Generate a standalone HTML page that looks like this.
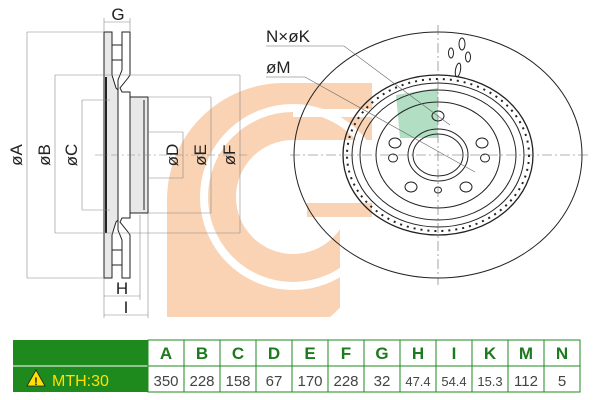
<!DOCTYPE html>
<html><head><meta charset="utf-8"><style>
body{margin:0;background:#fff;width:600px;height:400px;overflow:hidden}
svg{display:block}
text{font-family:"Liberation Sans",sans-serif}
</style></head><body>
<svg width="600" height="400" viewBox="0 0 600 400">
<!-- logo -->
<path d="M167,317 L167,200 A117,117 0 0 1 284,83 L372,83 L372,245 A125,125 0 0 1 330,317 Z" fill="#f9d3b4"/>
<circle cx="293" cy="197" r="89" fill="none" stroke="#fff" stroke-width="8"/>
<rect x="293" y="109" width="85" height="8" fill="#fff"/>
<circle cx="293" cy="197" r="57" fill="#fff"/>
<rect x="293" y="140" width="90" height="63" fill="#fff"/>
<rect x="307" y="203" width="65" height="14" fill="#f9d3b4"/>
<rect x="340" y="217" width="40" height="110" fill="#fff"/>

<!-- left section view -->
<g stroke="#222" fill="none" stroke-width="1">
<path d="M104,32 L112,32 L112,75 L116,88 L124,96 L130,97 L148,97 L148,213 L130,213 L124,214 L116,222 L112,235 L112,278 L104,278 Z" fill="#e8e8e8"/>
<path d="M122,32 L130,32 L130,75 L128,78 L120,88 L122,92 L130,92 L130,218 L122,218 L120,222 L128,232 L130,235 L130,278 L122,278 L122,240 L118,230 L118,80 L122,70 Z" fill="#fff"/>
<line x1="106" y1="77" x2="106" y2="233" stroke-width="2"/>
<line x1="112" y1="45" x2="122" y2="45"/><line x1="112" y1="60" x2="122" y2="60"/>
<line x1="112" y1="250" x2="122" y2="250"/><line x1="112" y1="265" x2="122" y2="265"/>
<line x1="144" y1="100" x2="144" y2="210"/>
</g>
<g stroke="#888" stroke-width="0.6" fill="none">
<line x1="27" y1="32" x2="104" y2="32"/><line x1="27" y1="278" x2="104" y2="278"/>
<line x1="55" y1="75" x2="240" y2="75"/><line x1="55" y1="233" x2="240" y2="233"/>
<line x1="82" y1="100" x2="110" y2="100"/><line x1="82" y1="210" x2="110" y2="210"/>
<line x1="148" y1="97" x2="211" y2="97"/><line x1="148" y1="213" x2="211" y2="213"/>
<line x1="148" y1="132" x2="183" y2="132"/><line x1="148" y1="178" x2="183" y2="178"/>
<line x1="27" y1="32" x2="27" y2="278"/><line x1="55" y1="75" x2="55" y2="233"/>
<line x1="82" y1="100" x2="82" y2="210"/><line x1="183" y1="132" x2="183" y2="178"/>
<line x1="211" y1="97" x2="211" y2="213"/><line x1="240" y1="75" x2="240" y2="233"/>
<line x1="104" y1="18" x2="104" y2="32"/><line x1="130" y1="18" x2="130" y2="32"/>
<line x1="104" y1="22" x2="130" y2="22"/>
<line x1="104" y1="278" x2="104" y2="318"/><line x1="140" y1="215" x2="140" y2="300"/><line x1="148" y1="213" x2="148" y2="318"/>
<line x1="104" y1="296" x2="140" y2="296"/><line x1="104" y1="315" x2="148" y2="315"/>
<line x1="95" y1="155" x2="250" y2="155" stroke-dasharray="8 3 2 3"/>
</g>
<g font-size="17" fill="#222">
<text x="118" y="20" text-anchor="middle">G</text>
<text x="122" y="294" text-anchor="middle">H</text>
<text x="126" y="313" text-anchor="middle">I</text>
<text transform="translate(22,155) rotate(-90)" text-anchor="middle">øA</text>
<text transform="translate(50,155) rotate(-90)" text-anchor="middle">øB</text>
<text transform="translate(77,155) rotate(-90)" text-anchor="middle">øC</text>
<text transform="translate(178,155) rotate(-90)" text-anchor="middle">øD</text>
<text transform="translate(206,155) rotate(-90)" text-anchor="middle">øE</text>
<text transform="translate(235,155) rotate(-90)" text-anchor="middle">øF</text>
<text x="266" y="42">N×øK</text>
<text x="266" y="73">øM</text>
</g>

<!-- right front view -->
<path d="M438,88 L438,138 L400,138 L396,95 Z" fill="#9fd6b4" opacity="0.8"/>
<g stroke="#222" fill="none">
<ellipse cx="438" cy="155" rx="144" ry="123"/>
<ellipse cx="438" cy="155" rx="95" ry="80" stroke-width="1.3"/>
<ellipse cx="438" cy="155" rx="91" ry="76" stroke-dasharray="2 5" stroke-width="2"/>
<ellipse cx="438" cy="155" rx="86" ry="72"/>
<ellipse cx="438" cy="155" rx="78" ry="65"/>
<ellipse cx="438" cy="155" rx="62" ry="53"/>
<ellipse cx="438" cy="155" rx="30" ry="26"/>
<ellipse cx="438" cy="155" rx="25" ry="21"/>
<ellipse cx="438" cy="116" rx="6" ry="5"/>
<ellipse cx="395" cy="143" rx="6" ry="5"/><ellipse cx="482" cy="143" rx="6" ry="5"/>
<ellipse cx="393" cy="158" rx="4.5" ry="4"/><ellipse cx="485" cy="158" rx="4.5" ry="4"/>
<ellipse cx="411" cy="187" rx="6" ry="5"/><ellipse cx="466" cy="187" rx="6" ry="5"/>
<ellipse cx="438" cy="190" rx="3.5" ry="3"/>
<ellipse cx="462" cy="44" rx="3" ry="6"/><ellipse cx="451" cy="53" rx="2.5" ry="5"/>
<ellipse cx="468" cy="57" rx="2.5" ry="5"/><ellipse cx="458" cy="70" rx="2.5" ry="7" transform="rotate(10 458 70)"/>
</g>
<g stroke="#666" stroke-width="0.6" fill="none">
<line x1="290" y1="155" x2="590" y2="155" stroke-dasharray="10 3 2 3"/>
<line x1="438" y1="25" x2="438" y2="285" stroke-dasharray="10 3 2 3"/>
<polyline points="266,46 344,46 450,125"/>
<polyline points="266,77 305,77 475,172"/>
</g>

<!-- table -->
<g>
<rect x="13" y="340" width="135" height="52" fill="#1e8a1e"/>
<line x1="13" y1="366" x2="148" y2="366" stroke="#fff" stroke-width="1"/>
<rect x="148" y="340" width="432" height="52" fill="#fff" stroke="#1e8a1e"/>
<line x1="148" y1="366" x2="580" y2="366" stroke="#1e8a1e"/>
<g stroke="#1e8a1e">
<line x1="184" y1="340" x2="184" y2="392"/><line x1="220" y1="340" x2="220" y2="392"/>
<line x1="256" y1="340" x2="256" y2="392"/><line x1="292" y1="340" x2="292" y2="392"/>
<line x1="328" y1="340" x2="328" y2="392"/><line x1="364" y1="340" x2="364" y2="392"/>
<line x1="400" y1="340" x2="400" y2="392"/><line x1="436" y1="340" x2="436" y2="392"/>
<line x1="472" y1="340" x2="472" y2="392"/><line x1="508" y1="340" x2="508" y2="392"/>
<line x1="544" y1="340" x2="544" y2="392"/>
</g>
<g font-size="17" font-weight="bold" fill="#1e7a1e" text-anchor="middle">
<text x="166" y="359">A</text><text x="202" y="359">B</text><text x="238" y="359">C</text>
<text x="274" y="359">D</text><text x="310" y="359">E</text><text x="346" y="359">F</text>
<text x="382" y="359">G</text><text x="418" y="359">H</text><text x="454" y="359">I</text>
<text x="490" y="359">K</text><text x="526" y="359">M</text><text x="562" y="359">N</text>
</g>
<g font-size="15" fill="#444" text-anchor="middle">
<text x="166" y="386">350</text><text x="202" y="386">228</text><text x="238" y="386">158</text>
<text x="274" y="386">67</text><text x="310" y="386">170</text><text x="346" y="386">228</text>
<text x="382" y="386">32</text><text x="418" y="386" font-size="13">47.4</text><text x="454" y="386" font-size="13">54.4</text>
<text x="490" y="386" font-size="13">15.3</text><text x="526" y="386">112</text><text x="562" y="386">5</text>
</g>
<path d="M36,370 L45,386 L27,386 Z" fill="#ffe000" stroke="#222" stroke-width="0.8"/>
<text x="36" y="385" font-size="11" font-weight="bold" text-anchor="middle" fill="#222">!</text>
<text x="52" y="386" font-size="16" fill="#ffe000">MTH:30</text>
</g>
</svg>
</body></html>
